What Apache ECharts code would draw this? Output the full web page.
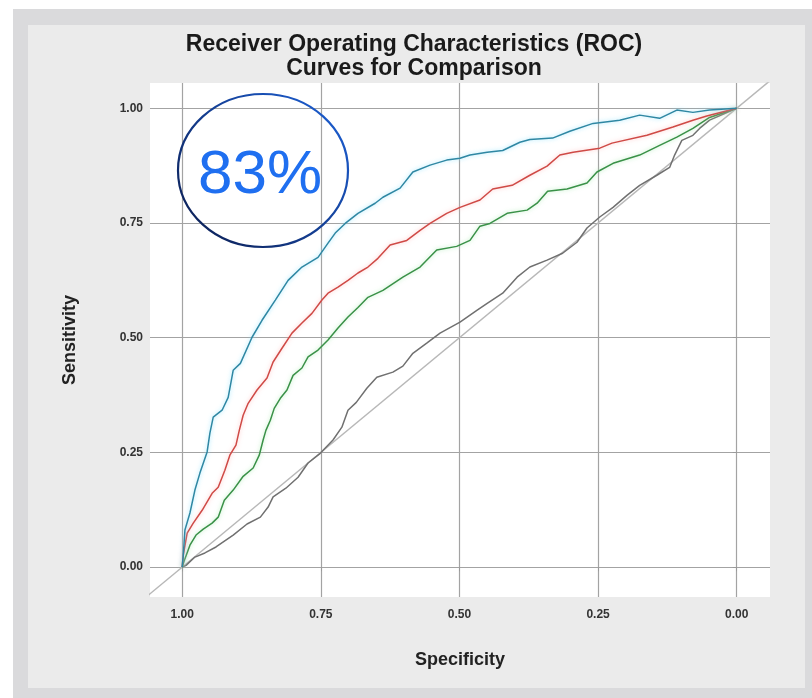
<!DOCTYPE html>
<html>
<head>
<meta charset="utf-8">
<script src="https://cdn.jsdelivr.net/npm/echarts@6/dist/echarts.min.js"></script>
<style>
  html, body { margin: 0; padding: 0; background: #fff; }
  #chart { width: 812px; height: 698px; }
</style>
</head>
<body>
<div id="chart"></div>
<script>
// Title lines and axis names
const titleLines = ['Receiver Operating Characteristics (ROC)', 'Curves for Comparison'];
const xName = 'Specificity';
const yName = 'Sensitivity';

// Tick positions and their printed labels
const tickValues = [0, 0.25, 0.5, 0.75, 1];
const tickLabels = ['0.00', '0.25', '0.50', '0.75', '1.00'];

// ROC curves as [specificity, sensitivity] pairs
const rocTeal = [
  [1.000, 0.000], [0.998, 0.026], [0.995, 0.081], [0.986, 0.118], [0.977, 0.168],
  [0.968, 0.205], [0.955, 0.251], [0.950, 0.292], [0.944, 0.327], [0.928, 0.342],
  [0.917, 0.370], [0.908, 0.429], [0.895, 0.444], [0.874, 0.501], [0.856, 0.538],
  [0.832, 0.582], [0.809, 0.625], [0.784, 0.654], [0.755, 0.675], [0.737, 0.706],
  [0.724, 0.728], [0.706, 0.749], [0.683, 0.771], [0.652, 0.793], [0.638, 0.806],
  [0.607, 0.826], [0.584, 0.861], [0.553, 0.876], [0.523, 0.887], [0.499, 0.891],
  [0.481, 0.898], [0.450, 0.904], [0.422, 0.908], [0.391, 0.926], [0.373, 0.932],
  [0.332, 0.935], [0.301, 0.950], [0.259, 0.967], [0.211, 0.974], [0.175, 0.985],
  [0.139, 0.978], [0.108, 0.996], [0.079, 0.991], [0.049, 0.996], [0.000, 1.000]
];
const rocRed = [
  [1.000, 0.000], [0.998, 0.026], [0.991, 0.074], [0.980, 0.096], [0.964, 0.124],
  [0.946, 0.161], [0.935, 0.174], [0.923, 0.211], [0.914, 0.244], [0.903, 0.266],
  [0.897, 0.298], [0.890, 0.331], [0.881, 0.357], [0.865, 0.386], [0.847, 0.412],
  [0.836, 0.447], [0.820, 0.477], [0.802, 0.510], [0.784, 0.532], [0.766, 0.553],
  [0.748, 0.582], [0.737, 0.597], [0.719, 0.610], [0.701, 0.625], [0.683, 0.641],
  [0.665, 0.654], [0.647, 0.673], [0.625, 0.702], [0.595, 0.712], [0.571, 0.734],
  [0.553, 0.749], [0.523, 0.771], [0.499, 0.784], [0.463, 0.800], [0.440, 0.824],
  [0.405, 0.832], [0.373, 0.854], [0.342, 0.874], [0.319, 0.898], [0.295, 0.904],
  [0.247, 0.913], [0.225, 0.924], [0.162, 0.941], [0.115, 0.959], [0.079, 0.974],
  [0.054, 0.983], [0.000, 1.000]
];
const rocGreen = [
  [1.000, 0.000], [0.996, 0.015], [0.986, 0.048], [0.975, 0.070], [0.962, 0.083],
  [0.946, 0.096], [0.935, 0.109], [0.924, 0.146], [0.908, 0.168], [0.890, 0.198],
  [0.872, 0.216], [0.861, 0.244], [0.854, 0.277], [0.849, 0.298], [0.841, 0.320],
  [0.834, 0.346], [0.823, 0.368], [0.811, 0.386], [0.800, 0.418], [0.784, 0.434],
  [0.773, 0.458], [0.755, 0.473], [0.737, 0.495], [0.719, 0.521], [0.701, 0.545],
  [0.683, 0.566], [0.665, 0.588], [0.638, 0.603], [0.602, 0.632], [0.571, 0.654],
  [0.541, 0.691], [0.505, 0.699], [0.481, 0.712], [0.463, 0.743], [0.445, 0.749],
  [0.414, 0.771], [0.378, 0.778], [0.360, 0.793], [0.341, 0.819], [0.306, 0.824],
  [0.270, 0.837], [0.252, 0.861], [0.223, 0.880], [0.175, 0.898], [0.139, 0.919],
  [0.108, 0.937], [0.079, 0.956], [0.049, 0.980], [0.000, 1.000]
];
const rocGray = [
  [1.000, 0.000], [0.993, 0.004], [0.977, 0.022], [0.959, 0.031], [0.939, 0.044],
  [0.908, 0.070], [0.883, 0.094], [0.859, 0.109], [0.845, 0.131], [0.836, 0.153],
  [0.813, 0.172], [0.791, 0.196], [0.773, 0.227], [0.751, 0.248], [0.728, 0.277],
  [0.712, 0.305], [0.701, 0.342], [0.686, 0.359], [0.667, 0.390], [0.649, 0.414],
  [0.620, 0.425], [0.602, 0.438], [0.584, 0.466], [0.559, 0.488], [0.535, 0.510],
  [0.499, 0.534], [0.468, 0.560], [0.450, 0.575], [0.422, 0.597], [0.396, 0.632],
  [0.373, 0.654], [0.342, 0.669], [0.314, 0.684], [0.288, 0.708], [0.270, 0.739],
  [0.247, 0.763], [0.223, 0.784], [0.198, 0.810], [0.175, 0.832], [0.144, 0.854],
  [0.121, 0.871], [0.112, 0.898], [0.099, 0.930], [0.079, 0.941], [0.067, 0.956],
  [0.049, 0.974], [0.000, 1.000]
];
// Chance line (sensitivity = 1 - specificity), clipped by the plot area
const chanceLine = [[1.2, -0.2], [-0.2, 1.2]];

// Highlighted score in the upper-left corner
const highlightText = '83%';

const FONT = '"Liberation Sans", Arial, Helvetica, sans-serif';

function curve(name, data, color, glow) {
  return {
    name: name,
    type: 'line',
    data: data,
    symbol: 'none',
    showSymbol: false,
    z: 3,
    lineStyle: { color: color, width: 1.5, shadowColor: glow, shadowBlur: glow ? 4 : 0 }
  };
}

const chart = echarts.init(document.getElementById('chart'));

function axisCommon() {
  return {
    type: 'value',
    axisLine: { show: false },
    axisTick: {
      show: true, length: 4, customValues: tickValues,
      lineStyle: { color: '#999', width: 1 }
    },
    axisLabel: {
      customValues: tickValues,
      formatter: function (v) {
        const i = tickValues.findIndex(function (t) { return Math.abs(t - v) < 1e-9; });
        return i >= 0 ? tickLabels[i] : '';
      },
      fontFamily: FONT, fontSize: 12, fontWeight: 'bold', color: '#333'
    },
    splitLine: { show: true, lineStyle: { color: '#a3a3a3', width: 1.2 } },
    nameLocation: 'middle',
    nameTextStyle: { fontFamily: FONT, fontSize: 18, fontWeight: 'bold', color: '#222' }
  };
}

const xAxis = Object.assign(axisCommon(), {
  inverse: true, min: -0.06, max: 1.058, name: xName, nameGap: 54
});
xAxis.axisLabel.margin = 12;

const yAxis = Object.assign(axisCommon(), {
  min: -0.065, max: 1.055, name: yName, nameGap: 71, nameRotate: 90
});
yAxis.axisLabel.margin = 7;

chart.setOption({
  animation: false,
  backgroundColor: '#ffffff',
  title: {
    text: titleLines.join('\n'),
    left: 414, top: 33, padding: 0, textAlign: 'center',
    textStyle: { fontFamily: FONT, fontSize: 23, fontWeight: 'bold', color: '#1a1a1a', lineHeight: 24 }
  },
  grid: {
    left: 150, right: 42, top: 83, bottom: 101,
    show: true, backgroundColor: '#ffffff', borderWidth: 0
  },
  xAxis: xAxis,
  yAxis: yAxis,
  series: [
    {
      name: 'chance', type: 'line', data: chanceLine, symbol: 'none', z: 2,
      lineStyle: { color: '#b8b8b8', width: 1.5 }
    },
    curve('gray', rocGray, '#707070', null),
    curve('green', rocGreen, '#3a9148', 'rgba(150,230,160,0.7)'),
    curve('red', rocRed, '#cf4a46', 'rgba(255,170,170,0.7)'),
    curve('teal', rocTeal, '#2f87a3', 'rgba(130,225,255,0.8)')
  ],
  graphic: [
    { type: 'rect', z: -100, silent: true, shape: { x: 13, y: 9, width: 802, height: 692 }, style: { fill: '#dadadc' } },
    { type: 'rect', z: -99, silent: true, shape: { x: 28, y: 25, width: 777, height: 663 }, style: { fill: '#ebebeb' } },
    {
      type: 'ellipse', z: 100, silent: true,
      shape: { cx: 263, cy: 170.5, rx: 85, ry: 76.5 },
      style: {
        fill: 'none', lineWidth: 2.2,
        stroke: new echarts.graphic.LinearGradient(0, 1, 1, 0, [
          { offset: 0, color: '#0b1a4a' }, { offset: 1, color: '#1d63dc' }
        ])
      }
    },
    {
      type: 'text', z: 101, silent: true, x: 260, y: 176,
      style: {
        text: highlightText, fill: '#1f6ff0', align: 'center', verticalAlign: 'middle',
        font: 'normal 62px ' + FONT
      }
    }
  ]
});
</script>
</body>
</html>
